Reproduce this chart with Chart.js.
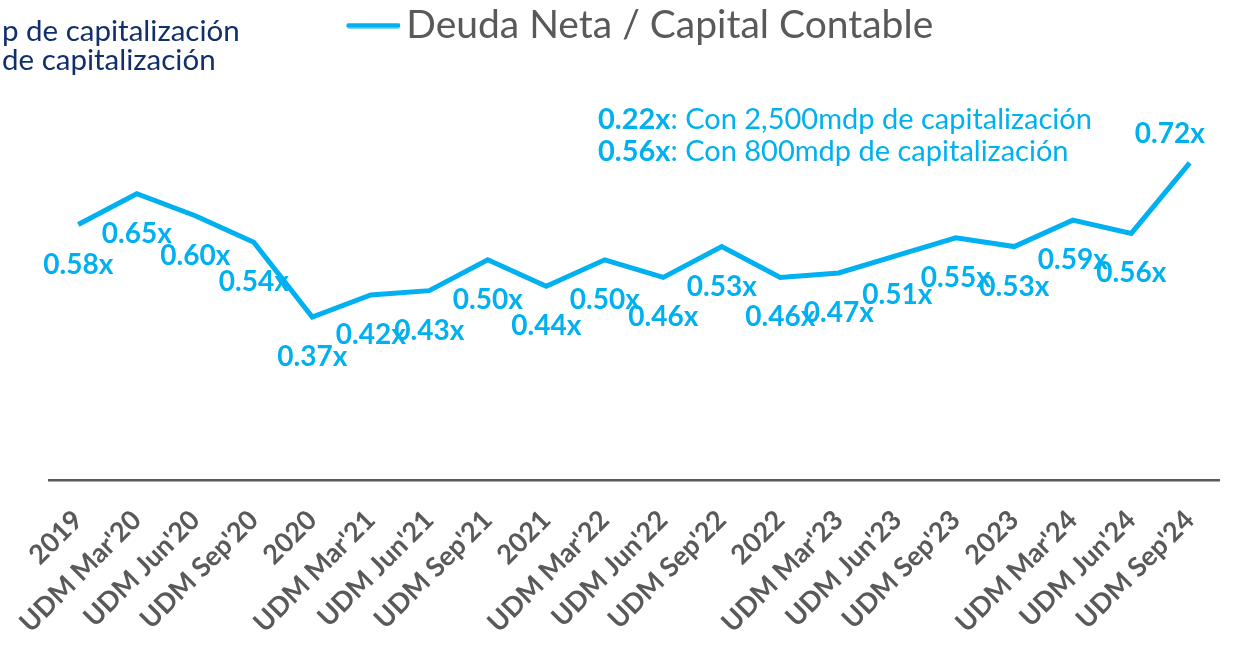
<!DOCTYPE html>
<html>
<head>
<meta charset="utf-8">
<script src="https://cdn.jsdelivr.net/npm/chart.js@4.4.1/dist/chart.umd.min.js"></script>
<style>
  html, body { margin: 0; padding: 0; background: #ffffff; }
  #wrap { position: relative; width: 1238px; height: 650px; overflow: hidden; }
  .note { position: absolute; font-family: Lato, sans-serif; white-space: nowrap; line-height: 1; }
  .navy { color: #11306b; font-size: 29.5px; left: 2px; }
  .blue { color: #00b0f0; font-size: 29px; left: 598px; }
  .blue b { font-weight: 700; }
</style>
</head>
<body>
<div id="wrap">
  <canvas id="deudaChart" width="1238" height="650"></canvas>
  <div class="note navy" style="top:15px;">p de capitalización</div>
  <div class="note navy" style="top:44px;">de capitalización</div>
  <div class="note blue" style="top:103px;"><b>0.22x</b>: Con 2,500mdp de capitalización</div>
  <div class="note blue" style="top:135px;"><b>0.56x</b>: Con 800mdp de capitalización</div>
</div>
<script>
// periods on the x axis
const periodos = [
    "2019", "UDM Mar'20", "UDM Jun'20", "UDM Sep'20",
    "2020", "UDM Mar'21", "UDM Jun'21", "UDM Sep'21",
    "2021", "UDM Mar'22", "UDM Jun'22", "UDM Sep'22",
    "2022", "UDM Mar'23", "UDM Jun'23", "UDM Sep'23",
    "2023", "UDM Mar'24", "UDM Jun'24", "UDM Sep'24"
];

// Deuda Neta / Capital Contable (veces)
const deudaCapital = [
    0.58, 0.65, 0.60, 0.54,
    0.37, 0.42, 0.43, 0.50,
    0.44, 0.50, 0.46, 0.53,
    0.46, 0.47, 0.51, 0.55,
    0.53, 0.59, 0.56, 0.72
];

const serieNombre = "Deuda Neta / Capital Contable";
const azul = "#00b0f0";
const gris = "#595959";

// legend marker: a short line that runs almost up to the text
const legendLine = document.createElement('canvas');
legendLine.width = 78;
legendLine.height = 6;
(() => {
    const c = legendLine.getContext('2d');
    c.strokeStyle = azul;
    c.lineWidth = 5;
    c.lineCap = 'round';
    c.beginPath();
    c.moveTo(27, 3);
    c.lineTo(76, 3);
    c.stroke();
})();

// value labels next to each point (below, last one above)
const etiquetasPlugin = {
    id: 'etiquetas',
    afterDatasetsDraw(chart) {
        const ctx = chart.ctx;
        const meta = chart.getDatasetMeta(0);
        const values = chart.data.datasets[0].data;
        ctx.save();
        ctx.font = 'bold 28px Lato';
        ctx.fillStyle = azul;
        ctx.textAlign = 'center';
        ctx.textBaseline = 'middle';
        meta.data.forEach((pt, i) => {
            const last = i === values.length - 1;
            const dx = last ? -20 : 0;
            const dy = last ? -29 : 40;
            ctx.fillText(values[i].toFixed(2) + 'x', pt.x + dx, pt.y + dy);
        });
        ctx.restore();
    }
};

const ctx = document.getElementById('deudaChart').getContext('2d');
const deudaChart = new Chart(ctx, {
    type: 'line',
    data: {
        labels: periodos,
        datasets: [{
            label: serieNombre,
            data: deudaCapital,
            borderColor: azul,
            backgroundColor: azul,
            borderWidth: 5,
            pointRadius: 0,
            pointStyle: legendLine,
            tension: 0,
            fill: false
        }]
    },
    options: {
        responsive: false,
        animation: false,
        layout: { padding: { left: 49, right: 19, top: 0, bottom: 0 } },
        scales: {
            x: {
                offset: true,
                grid: { display: false, drawTicks: false },
                border: { display: true, color: gris, width: 2.5 },
                ticks: {
                    color: gris,
                    font: { family: 'Lato', weight: 'bold', size: 27 },
                    minRotation: 45,
                    maxRotation: 45,
                    padding: 24,
                    autoSkip: false
                },
                afterFit(scale) { scale.height = 170; }
            },
            y: {
                display: false,
                min: 0,
                max: 0.965
            }
        },
        plugins: {
            legend: {
                display: true,
                position: 'top',
                labels: {
                    usePointStyle: true,
                    pointStyleWidth: 52,
                    color: gris,
                    font: { family: 'Lato', size: 39 },
                    padding: 6
                }
            },
            tooltip: { enabled: false }
        }
    },
    plugins: [etiquetasPlugin]
});
</script>
</body>
</html>
